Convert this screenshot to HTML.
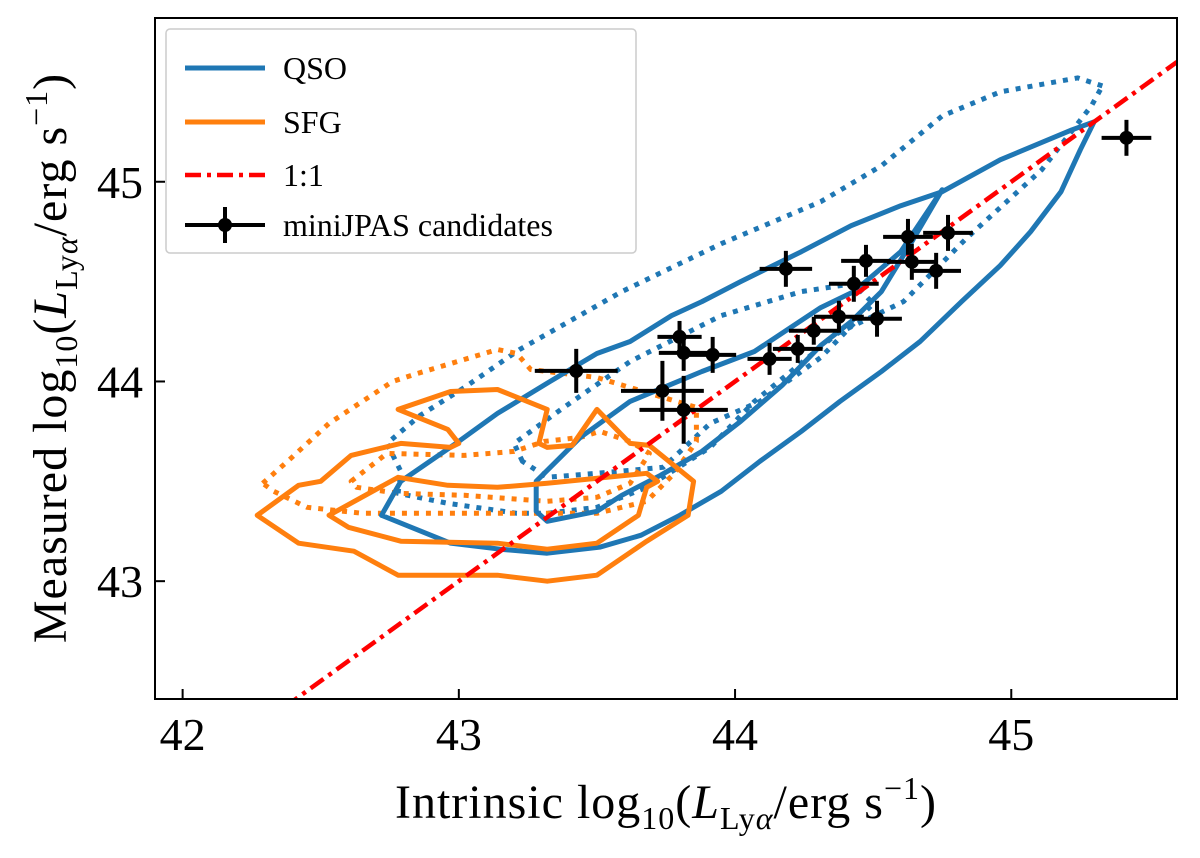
<!DOCTYPE html>
<html><head><meta charset="utf-8"><style>
html,body{margin:0;padding:0;background:#fff;}
svg text{font-family:"Liberation Serif","DejaVu Serif",serif;fill:#000;}
</style></head><body>
<svg id="chart" width="1200" height="853" viewBox="0 0 1200 853" xmlns="http://www.w3.org/2000/svg">
<g id="plot"></g>
<rect x="155" y="18" width="1022" height="681" fill="none" stroke="#000" stroke-width="2"/>
<g id="ticks"></g>
<text x="666" y="818" font-size="48" text-anchor="middle" letter-spacing="1">Intrinsic log<tspan font-size="32" dy="11">10</tspan><tspan dy="-11">(</tspan><tspan font-style="italic">L</tspan><tspan font-size="32" dy="11">Ly<tspan font-style="italic">α</tspan></tspan><tspan dy="-11">/erg s</tspan><tspan font-size="32" dy="-19">−1</tspan><tspan dy="19">)</tspan></text>
<text transform="translate(66,358) rotate(-90)" font-size="48" text-anchor="middle" letter-spacing="1">Measured log<tspan font-size="32" dy="11">10</tspan><tspan dy="-11">(</tspan><tspan font-style="italic">L</tspan><tspan font-size="32" dy="11">Ly<tspan font-style="italic">α</tspan></tspan><tspan dy="-11">/erg s</tspan><tspan font-size="32" dy="-19">−1</tspan><tspan dy="19">)</tspan></text>
<g>
<rect x="166" y="29" width="470" height="224" rx="4" fill="#fff" fill-opacity="0.85" stroke="#ccc" stroke-width="1.5"/>
<g><line x1="185" y1="68" x2="265" y2="68" stroke="#1f77b4" stroke-width="5"/><text x="283" y="79" font-size="32">QSO</text></g>
<g><line x1="185" y1="122" x2="265" y2="122" stroke="#ff7f0e" stroke-width="5"/><text x="283" y="133" font-size="32">SFG</text></g>
<g><line x1="185" y1="175" x2="265" y2="175" stroke="#ff0000" stroke-width="4.5" stroke-dasharray="16 6 4 6"/><text x="283" y="186" font-size="32">1:1</text></g>
<g><line x1="185" y1="225" x2="265" y2="225" stroke="#000" stroke-width="4"/><line x1="225" y1="207" x2="225" y2="243" stroke="#000" stroke-width="4"/><circle cx="225" cy="225" r="7" fill="#000"/><text x="283" y="236" font-size="32">miniJPAS candidates</text></g>
</g>
</svg>
<script>
const xTicks=[42,43,44,45];
const yTicks=[43,44,45];
const candX=[45.417,44.227,44.285,44.376,44.514,44.430,44.474,44.626,44.771,44.640,44.728,44.125,44.184,43.799,43.814,43.919,43.425,43.737,43.814];
const candY=[45.22,44.163,44.254,44.324,44.314,44.489,44.604,44.724,44.744,44.599,44.554,44.113,44.564,44.223,44.143,44.133,44.053,43.953,43.858];
const candXerr=[0.09,0.09,0.09,0.09,0.09,0.09,0.09,0.09,0.09,0.09,0.09,0.08,0.095,0.08,0.09,0.085,0.15,0.15,0.16];
const candYerr=[0.09,0.07,0.07,0.08,0.09,0.09,0.08,0.09,0.09,0.09,0.09,0.08,0.09,0.08,0.09,0.09,0.11,0.15,0.17];
const oneToOne=[41.9,45.6];
const qsoOuterX=[45.30,45.22,44.96,44.75,44.60,44.42,44.24,44.02,43.88,43.77,43.62,43.50,43.33,43.14,43.00,42.79,42.72,42.97,43.15,43.32,43.51,43.66,43.80,43.95,44.09,44.24,44.38,44.53,44.67,44.82,44.96,45.07,45.18,45.25];
const qsoOuterY=[45.30,45.26,45.11,44.95,44.88,44.78,44.65,44.50,44.40,44.33,44.20,44.14,44.00,43.84,43.70,43.50,43.33,43.19,43.16,43.14,43.17,43.23,43.33,43.45,43.60,43.75,43.90,44.05,44.20,44.40,44.58,44.75,44.95,45.16];
const qsoInnerX=[43.28,43.44,43.62,43.88,44.07,44.31,44.43,44.60,44.75,44.64,44.53,44.42,44.31,44.17,44.02,43.88,43.73,43.59,43.50,43.32,43.28];
const qsoInnerY=[43.50,43.72,43.90,44.05,44.15,44.37,44.45,44.65,44.96,44.70,44.45,44.30,44.18,43.98,43.80,43.65,43.53,43.43,43.35,43.30,43.35];
const qsoDotOuterX=[45.33,45.24,44.96,44.75,44.53,44.31,43.95,43.59,43.22,43.02,42.86,42.74,42.79,42.78,42.96,43.21,43.32,43.50,43.68,43.91,44.07,44.37,44.61,44.84,45.11,45.29];
const qsoDotOuterY=[45.48,45.52,45.45,45.33,45.08,44.90,44.69,44.45,44.16,43.97,43.83,43.69,43.55,43.44,43.39,43.34,43.34,43.37,43.47,43.67,43.90,44.24,44.40,44.72,45.06,45.38];
const qsoDotInnerX=[43.23,43.20,43.38,43.62,43.95,44.24,44.43,44.50,44.31,44.09,43.91,43.74,43.50,43.32];
const qsoDotInnerY=[43.60,43.69,43.87,44.10,44.33,44.45,44.49,44.39,44.12,43.90,43.79,43.57,43.54,43.52];
const sfgOuterX=[42.27,42.42,42.50,42.61,42.79,42.97,43.00,42.96,42.78,42.97,43.14,43.32,43.29,43.32,43.41,43.50,43.62,43.69,43.85,43.83,43.68,43.50,43.32,43.14,42.78,42.62,42.42];
const sfgOuterY=[43.33,43.48,43.50,43.63,43.69,43.67,43.69,43.76,43.86,43.95,43.96,43.86,43.69,43.67,43.68,43.86,43.69,43.68,43.50,43.33,43.20,43.03,43.00,43.03,43.03,43.15,43.19];
const sfgInnerX=[42.53,42.78,42.96,43.14,43.32,43.68,43.72,43.68,43.65,43.50,43.32,43.14,42.79,42.60];
const sfgInnerY=[43.33,43.52,43.48,43.47,43.49,43.54,43.50,43.47,43.33,43.19,43.16,43.19,43.20,43.27];
const sfgDotOuterX=[42.29,42.38,42.53,42.76,42.85,43.14,43.21,43.26,43.50,43.62,43.86,43.86,43.78,43.68,43.50,43.26,42.96,42.65,42.45,42.33];
const sfgDotOuterY=[43.49,43.60,43.79,44.00,44.04,44.16,44.14,44.06,44.02,43.97,43.87,43.70,43.54,43.40,43.34,43.34,43.34,43.34,43.37,43.45];
const sfgDotInnerX=[42.61,42.74,43.02,43.20,43.31,43.44,43.51,43.62,43.69,43.62,43.50,43.32,43.02,42.78,42.63];
const sfgDotInnerY=[43.50,43.64,43.63,43.65,43.70,43.72,43.75,43.70,43.64,43.49,43.42,43.40,43.43,43.44,43.47];

const X0=155,X1=1177,Y0=699,Y1=18,xmin=41.9,xmax=45.6,ymin=42.41,ymax=45.82;
function sx(v){return X0+(v-xmin)/(xmax-xmin)*(X1-X0);}
function sy(v){return Y0-(v-ymin)/(ymax-ymin)*(Y0-Y1);}
const NS='http://www.w3.org/2000/svg';
const plot=document.getElementById('plot');
const clip=document.createElementNS(NS,'clipPath');clip.setAttribute('id','pc');
const cr=document.createElementNS(NS,'rect');cr.setAttribute('x',X0);cr.setAttribute('y',Y1);cr.setAttribute('width',X1-X0);cr.setAttribute('height',Y0-Y1);
clip.appendChild(cr);plot.appendChild(clip);
plot.setAttribute('clip-path','url(#pc)');
function contour(xs,ys,color,dotted,name){
  const p=document.createElementNS(NS,'polygon');
  p.setAttribute('points',xs.map((v,i)=>sx(v).toFixed(1)+','+sy(ys[i]).toFixed(1)).join(' '));
  p.setAttribute('fill','none');p.setAttribute('stroke',color);p.setAttribute('stroke-width','5');
  p.setAttribute('stroke-linejoin','round');
  if(dotted)p.setAttribute('stroke-dasharray','5 7');
  
  
  plot.appendChild(p);
}
contour(qsoDotOuterX,qsoDotOuterY,'#1f77b4',true,'qso-contour-dotted-outer');
contour(qsoDotInnerX,qsoDotInnerY,'#1f77b4',true,'qso-contour-dotted-inner');
contour(sfgDotOuterX,sfgDotOuterY,'#ff7f0e',true,'sfg-contour-dotted-outer');
contour(sfgDotInnerX,sfgDotInnerY,'#ff7f0e',true,'sfg-contour-dotted-inner');
contour(qsoOuterX,qsoOuterY,'#1f77b4',false,'qso-contour-outer');
contour(qsoInnerX,qsoInnerY,'#1f77b4',false,'qso-contour-inner');
contour(sfgOuterX,sfgOuterY,'#ff7f0e',false,'sfg-contour-outer');
contour(sfgInnerX,sfgInnerY,'#ff7f0e',false,'sfg-contour-inner');
const ln=document.createElementNS(NS,'line');
ln.setAttribute('x1',sx(oneToOne[0]));ln.setAttribute('y1',sy(oneToOne[0]));
ln.setAttribute('x2',sx(oneToOne[1]));ln.setAttribute('y2',sy(oneToOne[1]));
ln.setAttribute('stroke','#ff0000');ln.setAttribute('stroke-width','4.5');ln.setAttribute('stroke-dasharray','16 6 4 6');


plot.appendChild(ln);
candX.forEach((x,i)=>{
  const g=document.createElementNS(NS,'g');
  
  
  const cx=sx(x),cy=sy(candY[i]);
  g.innerHTML='<line x1="'+sx(x-candXerr[i])+'" y1="'+cy+'" x2="'+sx(x+candXerr[i])+'" y2="'+cy+'" stroke="#000" stroke-width="4"/>'+
    '<line x1="'+cx+'" y1="'+sy(candY[i]-candYerr[i])+'" x2="'+cx+'" y2="'+sy(candY[i]+candYerr[i])+'" stroke="#000" stroke-width="4"/>'+
    '<circle cx="'+cx+'" cy="'+cy+'" r="7" fill="#000"/>';
  plot.appendChild(g);
});
const tk=document.getElementById('ticks');
xTicks.forEach(v=>{
  const g=document.createElementNS(NS,'g');
  
  
  g.innerHTML='<line x1="'+sx(v)+'" y1="'+Y0+'" x2="'+sx(v)+'" y2="'+(Y0-10)+'" stroke="#000" stroke-width="2"/><text x="'+sx(v)+'" y="750" font-size="46" text-anchor="middle">'+v+'</text>';
  tk.appendChild(g);
});
yTicks.forEach(v=>{
  const g=document.createElementNS(NS,'g');
  
  
  g.innerHTML='<line x1="'+X0+'" y1="'+sy(v)+'" x2="'+(X0+10)+'" y2="'+sy(v)+'" stroke="#000" stroke-width="2"/><text x="143" y="'+(sy(v)+16)+'" font-size="46" text-anchor="end">'+v+'</text>';
  tk.appendChild(g);
});
</script>
</body></html>
